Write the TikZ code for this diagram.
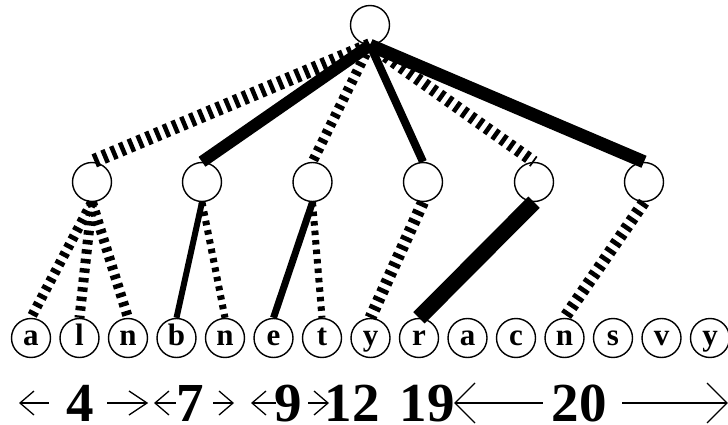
\documentclass[tikz,border=0pt]{standalone}
\usepackage{fontspec}
\setmainfont{Liberation Serif}
\usetikzlibrary{calc}
\tikzset{
  nd/.style={circle, draw, line width=1.4pt, minimum size=39pt, inner sep=0pt},
  lf/.style={nd, font=\bfseries\fontsize{31}{31}\selectfont, text height=14pt, text depth=0pt},
  solidedge/.style={line width=#1, line cap=butt},
  dashedge/.style={line width=#1, line cap=butt, dash pattern=on 4.5pt off 5pt},
  num/.style={anchor=base, inner sep=0pt, text depth=0pt, font=\bfseries\fontsize{55}{55}\selectfont},
  arr/.style={line width=1.3pt, line join=miter}
}
\begin{document}
\begin{tikzpicture}[x=1pt,y=-1pt]
\useasboundingbox (0,0) rectangle (728,425);
% root and middle level
\node[nd] (root) at (370,25) {};
\node[nd] (m1) at (92,182) {};
\node[nd] (m2) at (202,182) {};
\node[nd] (m3) at (312.5,182) {};
\node[nd] (m4) at (423,182) {};
\node[nd] (m5) at (534,182) {};
\node[nd] (m6) at (644,182) {};
% leaves
\foreach \i/\t in {0/a,1/l,2/n,3/b,4/n,5/e,6/t,7/y,8/r,9/a,10/c,11/n,12/s,13/v,14/y}{
  \node[lf] (l\i) at ({31+48.5*\i},338) {\t};
}
% root edges
\draw[dashedge=14pt] (root.south) -- (m1.north);
\draw[solidedge=12pt] (root.south) -- (m2.north);
\draw[dashedge=10pt] (root.south) -- (m3.north);
\draw[solidedge=8pt] (root.south) -- (m4.north);
\draw[dashedge=12pt] (root.south) -- (m5.north);
\draw[solidedge=13pt] (root.south) -- (m6.north);
% middle edges
\draw[dashedge=10pt] (m1.south) -- (l0.north);
\draw[dashedge=10pt] (m1.south) -- (l1.north);
\draw[dashedge=10pt] (m1.south) -- (l2.north);
\draw[solidedge=6pt] (m2.south) -- (l3.north);
\draw[dashedge=7pt] (m2.south) -- (l4.north);
\draw[solidedge=7pt] (m3.south) -- (l5.north);
\draw[dashedge=7pt] (m3.south) -- (l6.north);
\draw[dashedge=12pt] (m4.south) -- (l7.north);
\draw[solidedge=16pt] (m5.south) -- (l8.north);
\draw[dashedge=12pt] (m6.south) -- (l11.north);
% bottom numbers
\node[num] (n4) at (80.5,421) {4};
\node[num] (n7) at (190,421) {7};
\node[num] (n9) at (288.5,421) {9};
\node[num] (n12) at (352,421) {12};
\node[num] (n19) at (427,421) {19};
\node[num] (n20) at (579,421) {20};
% arrows
\coordinate (a1) at (20,403);
\draw[arr] ($(a1)+(14,-12)$) -- (a1) -- ($(a1)+(14,12)$);
\draw[arr] (a1) -- (49,403);
\coordinate (a2) at (147,403);
\draw[arr] ($(a2)+(-18,-12)$) -- (a2) -- ($(a2)+(-18,12)$);
\draw[arr] (107,403) -- (a2);
\coordinate (a3) at (155,403);
\draw[arr] ($(a3)+(14,-12)$) -- (a3) -- ($(a3)+(14,12)$);
\draw[arr] (a3) -- (176,403);
\coordinate (a4) at (233,403);
\draw[arr] ($(a4)+(-14,-12)$) -- (a4) -- ($(a4)+(-14,12)$);
\draw[arr] (213,403) -- (a4);
\coordinate (a5) at (252,403);
\draw[arr] ($(a5)+(14,-12)$) -- (a5) -- ($(a5)+(14,12)$);
\draw[arr] (a5) -- (276,403);
\coordinate (a6) at (328,403);
\draw[arr] ($(a6)+(-14,-12)$) -- (a6) -- ($(a6)+(-14,12)$);
\draw[arr] (308,403) -- (a6);
\coordinate (a7) at (455,403);
\draw[arr] ($(a7)+(20,-20)$) -- (a7) -- ($(a7)+(20,20)$);
\draw[arr] (a7) -- (543,403);
\coordinate (a8) at (727,403);
\draw[arr] ($(a8)+(-20,-20)$) -- (a8) -- ($(a8)+(-20,20)$);
\draw[arr] (622,403) -- (a8);
\end{tikzpicture}
\end{document}
